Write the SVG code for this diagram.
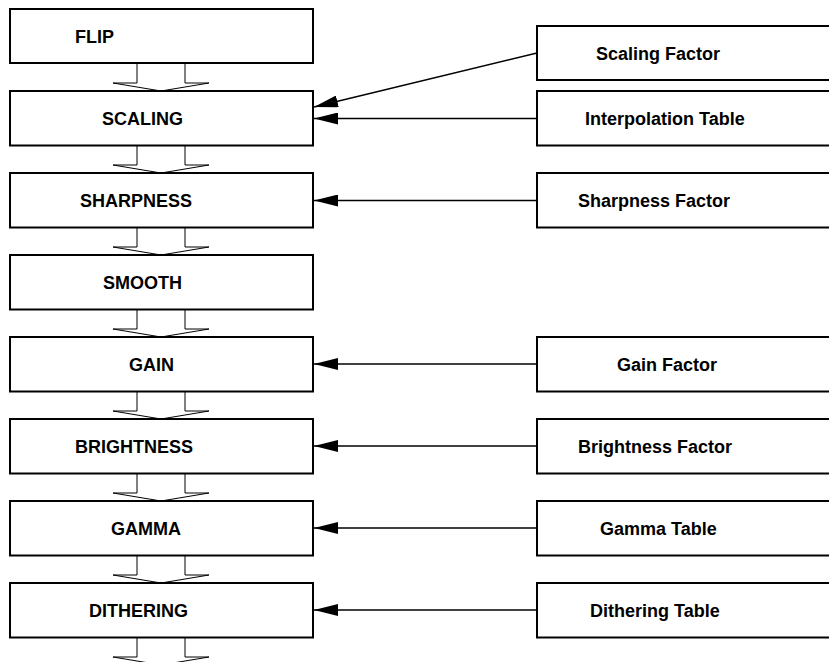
<svg xmlns="http://www.w3.org/2000/svg" width="829" height="662" viewBox="0 0 829 662">
<style>
.box{fill:#fff;stroke:#000;stroke-width:2}
.t{font-family:"Liberation Sans",Arial,sans-serif;font-weight:bold;font-size:18px;fill:#000}
.flow{fill:none;stroke:#000;stroke-width:1}
.conn{stroke:#000;stroke-width:1.5;fill:none;marker-end:url(#ah)}
</style>
<defs>
<marker id="ah" markerWidth="24" markerHeight="12" refX="24" refY="6" orient="auto" markerUnits="userSpaceOnUse">
<path d="M0,0 L24,6 L0,12 Z" fill="#000"/>
</marker>
</defs>
<rect width="829" height="662" fill="#fff"/>
<g id="flows">
<polyline class="flow" points="137,63 137,83 113,83 161,91 209,83 185,83 185,63"/>
<polyline class="flow" points="137,145 137,165 113,165 161,173 209,165 185,165 185,145"/>
<polyline class="flow" points="137,227 137,247 113,247 161,255 209,247 185,247 185,227"/>
<polyline class="flow" points="137,309 137,329 113,329 161,337 209,329 185,329 185,309"/>
<polyline class="flow" points="137,391 137,411 113,411 161,419 209,411 185,411 185,391"/>
<polyline class="flow" points="137,473 137,493 113,493 161,501 209,493 185,493 185,473"/>
<polyline class="flow" points="137,555 137,575 113,575 161,583 209,575 185,575 185,555"/>
<polyline class="flow" points="137,637 137,657 113,657 161,665 209,657 185,657 185,637"/>
</g>
<g id="connectors">
<line class="conn" x1="537" y1="53" x2="314" y2="107"/>
<line class="conn" x1="537" y1="118.5" x2="314" y2="118.5"/>
<line class="conn" x1="537" y1="200.5" x2="314" y2="200.5"/>
<line class="conn" x1="537" y1="364" x2="314" y2="364"/>
<line class="conn" x1="537" y1="446" x2="314" y2="446"/>
<line class="conn" x1="537" y1="528" x2="314" y2="528"/>
<line class="conn" x1="537" y1="610" x2="314" y2="610"/>
</g>
<g id="flip"><rect class="box" x="10" y="9" width="303" height="54"/><text class="t" x="75" y="43">FLIP</text></g>
<g id="scaling"><rect class="box" x="10" y="91" width="303" height="54.5"/><text class="t" x="102" y="124.5">SCALING</text></g>
<g id="sharpness"><rect class="box" x="10" y="173" width="303" height="54.5"/><text class="t" x="80" y="206.5">SHARPNESS</text></g>
<g id="smooth"><rect class="box" x="10" y="255" width="303" height="54.5"/><text class="t" x="103" y="288.5">SMOOTH</text></g>
<g id="gain"><rect class="box" x="10" y="337" width="303" height="54.5"/><text class="t" x="129" y="370.5">GAIN</text></g>
<g id="brightness"><rect class="box" x="10" y="419" width="303" height="54.5"/><text class="t" x="75" y="452.5">BRIGHTNESS</text></g>
<g id="gamma"><rect class="box" x="10" y="501" width="303" height="54.5"/><text class="t" x="111" y="534.5">GAMMA</text></g>
<g id="dithering"><rect class="box" x="10" y="583" width="303" height="54.5"/><text class="t" x="89" y="616.5">DITHERING</text></g>
<g id="scaling-factor"><rect class="box" x="537" y="26" width="295" height="54"/><text class="t" x="596" y="59.5">Scaling Factor</text></g>
<g id="interpolation-table"><rect class="box" x="537" y="91" width="295" height="54.5"/><text class="t" x="585" y="124.5">Interpolation Table</text></g>
<g id="sharpness-factor"><rect class="box" x="537" y="173" width="295" height="54.5"/><text class="t" x="578" y="206.5">Sharpness Factor</text></g>
<g id="gain-factor"><rect class="box" x="537" y="337" width="295" height="54.5"/><text class="t" x="617" y="370.5">Gain Factor</text></g>
<g id="brightness-factor"><rect class="box" x="537" y="419" width="295" height="54.5"/><text class="t" x="578" y="452.5">Brightness Factor</text></g>
<g id="gamma-table"><rect class="box" x="537" y="501" width="295" height="54.5"/><text class="t" x="600" y="534.5">Gamma Table</text></g>
<g id="dithering-table"><rect class="box" x="537" y="583" width="295" height="54.5"/><text class="t" x="590" y="616.5">Dithering Table</text></g>
</svg>
